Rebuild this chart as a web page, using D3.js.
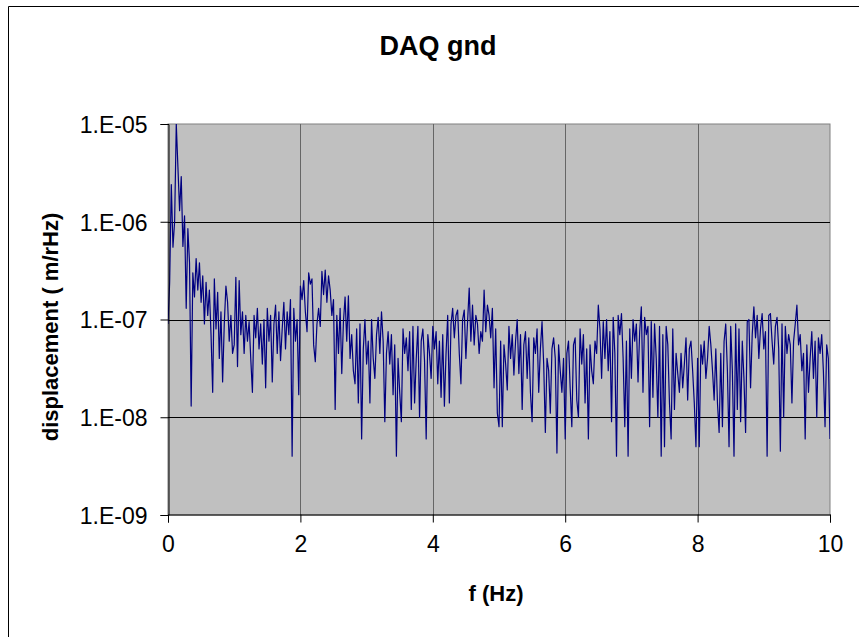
<!DOCTYPE html>
<html lang="en">
<head>
    <meta charset="utf-8">
    <title>DAQ gnd</title>
    <script src="https://d3js.org/d3.v7.min.js"></script>
    <style>
        body { margin: 0; background: #fff; }
        text { font-family: Arial, "Liberation Sans", sans-serif; fill: #000; }
        .tick-label { font-size: 23px; }
        .axis-title { font-size: 22px; font-weight: bold; }
        .chart-title { font-size: 27px; font-weight: bold; }
    </style>
</head>
<body>
    <svg id="chart" width="859" height="637"></svg>
    <script>
        // Spectrum, in nm/rHz (1e-9 m/rHz), one value per 0.025 Hz bin
        const binWidth = 0.025;
        const dispNm = [
            90, 240, 2400, 550, 1000, 10000, 3600, 1300, 2900, 560,
            1150, 130, 850, 380, 13, 300, 170, 420, 200, 380,
            150, 280, 90, 240, 110, 200, 70, 18, 260, 80,
            190, 40, 120, 23, 90, 220, 150, 60, 110, 45,
            55, 270, 33, 250, 70, 120, 45, 110, 60, 95,
            40, 18, 110, 65, 130, 50, 90, 35, 100, 20,
            130, 60, 110, 23, 90, 140, 45, 120, 38, 80,
            150, 50, 120, 70, 160, 4, 130, 60, 100, 17,
            220, 160, 250, 120, 75, 300, 230, 260, 55, 37,
            90, 130, 85, 310, 180, 320, 150, 280, 200, 110,
            160, 12, 110, 45, 130, 28, 95, 170, 60, 175,
            40, 70, 30, 22, 80, 14, 90, 6, 50, 100,
            35, 60, 14, 100, 40, 25, 70, 105, 45, 120,
            60, 9, 45, 75, 35, 70, 17, 55, 4, 40,
            18, 9, 80, 45, 65, 30, 75, 12, 85, 14,
            40, 85, 10, 60, 80, 38, 6, 70, 45, 25,
            85, 50, 75, 22, 60, 16, 70, 13, 45, 110,
            14, 90, 130, 65, 110, 125, 45, 22, 100, 125,
            40, 95, 210, 60, 140, 55, 110, 90, 45, 75,
            60, 200, 75, 140, 110, 65, 130, 20, 80, 11,
            8, 60, 8, 55, 35, 19, 85, 40, 70, 27,
            60, 100, 28, 70, 12, 55, 75, 25, 65, 18,
            9, 65, 45, 80, 18, 50, 95, 35, 7, 40,
            30, 11, 50, 65, 40, 4.3, 55, 30, 18, 40,
            6, 45, 60, 20, 8, 55, 65, 15, 10, 80,
            35, 70, 14, 50, 6, 55, 30, 22, 60, 45,
            140, 80, 25, 95, 40, 100, 30, 75, 9, 105,
            45, 4, 110, 70, 115, 40, 8, 60, 4, 80,
            25, 100, 60, 90, 23, 75, 135, 18, 105, 70,
            85, 8, 95, 16, 90, 40, 10, 85, 4, 70,
            5, 85, 55, 14, 6, 80, 12, 45, 28, 18,
            45, 20, 35, 65, 15, 50, 60, 30, 14, 5,
            40, 5, 55, 35, 60, 25, 40, 85, 55, 30,
            15, 50, 14, 7, 45, 8, 60, 90, 30, 5,
            85, 30, 4, 90, 12, 80, 9, 60, 25, 7,
            95, 100, 20, 70, 135, 65, 110, 40, 80, 115,
            50, 75, 4, 110, 115, 60, 35, 85, 105, 50,
            4.5, 90, 10, 85, 45, 70, 55, 14, 60, 90,
            140, 55, 70, 30, 45, 6, 55, 18, 40, 75,
            25, 60, 10, 65, 45, 70, 30, 8, 55, 40, 6
        ];

        const xTicks = [0, 2, 4, 6, 8, 10];
        const yTicks = [1e-9, 1e-8, 1e-7, 1e-6, 1e-5];
        const yTickLabels = ["1.E-09", "1.E-08", "1.E-07", "1.E-06", "1.E-05"];

        const data = dispNm.map((v, i) => ({ f: i * binWidth, d: v * 1e-9 }));

        // Plot area
        const plotLeft = 168, plotRight = 830, plotTop = 124, plotBottom = 515;

        const svg = d3.select("#chart");

        const x = d3.scaleLinear().domain([0, 10]).range([plotLeft, plotRight]);
        const y = d3.scaleLog().domain([1e-9, 1e-5]).range([plotBottom, plotTop]);

        // Outer chart frame (only top and left fall inside the window)
        svg.append("path")
            .attr("d", "M8.5,637V6.5H859")
            .attr("fill", "none")
            .attr("stroke", "#000")
            .attr("stroke-width", 1);

        // Gray plot area
        svg.append("rect")
            .attr("x", plotLeft).attr("y", plotTop)
            .attr("width", plotRight - plotLeft).attr("height", plotBottom - plotTop)
            .attr("fill", "#c0c0c0")
            .attr("stroke", "#808080")
            .attr("stroke-width", 1);

        // Vertical gridlines
        svg.append("g")
            .selectAll("line")
            .data(xTicks.slice(1, -1))
            .join("line")
            .attr("x1", d => Math.round(x(d)) + 0.5).attr("x2", d => Math.round(x(d)) + 0.5)
            .attr("y1", plotTop).attr("y2", plotBottom)
            .attr("stroke", "#666");

        // Horizontal gridlines
        svg.append("g")
            .selectAll("line")
            .data(yTicks.slice(1, -1))
            .join("line")
            .attr("x1", plotLeft).attr("x2", plotRight)
            .attr("y1", d => Math.round(y(d)) + 0.5).attr("y2", d => Math.round(y(d)) + 0.5)
            .attr("stroke", "#000");

        // Data line, clipped to the plot area
        svg.append("clipPath").attr("id", "plot-clip")
            .append("rect")
            .attr("x", plotLeft).attr("y", plotTop)
            .attr("width", plotRight - plotLeft).attr("height", plotBottom - plotTop);

        const line = d3.line()
            .x(d => x(d.f))
            .y(d => y(d.d));

        svg.append("path")
            .datum(data)
            .attr("clip-path", "url(#plot-clip)")
            .attr("d", line)
            .attr("fill", "none")
            .attr("stroke", "#000080")
            .attr("stroke-width", 1.2)
            .attr("stroke-linejoin", "round");

        // Y axis
        const yAxis = d3.axisLeft(y)
            .tickValues(yTicks)
            .tickFormat((d, i) => yTickLabels[i])
            .tickSize(8)
            .tickPadding(13);

        const gy = svg.append("g")
            .attr("transform", `translate(${plotLeft + 0.5},0)`)
            .call(yAxis);
        gy.select(".domain").attr("stroke", "#000");
        gy.selectAll(".tick line").attr("stroke", "#000");
        gy.selectAll(".tick text")
            .attr("class", "tick-label")
            .attr("dy", "0.36em");
        gy.attr("font-family", null).attr("font-size", null);

        // X axis
        const xAxis = d3.axisBottom(x)
            .tickValues(xTicks)
            .tickFormat(d3.format("d"))
            .tickSize(8)
            .tickPadding(13);

        const gx = svg.append("g")
            .attr("transform", `translate(0,${plotBottom - 0.5})`)
            .call(xAxis);
        gx.select(".domain").attr("stroke", "#000");
        gx.selectAll(".tick line").attr("stroke", "#000");
        gx.selectAll(".tick text")
            .attr("class", "tick-label");
        gx.attr("font-family", null).attr("font-size", null);

        // Titles
        svg.append("text")
            .attr("class", "chart-title")
            .attr("x", 438).attr("y", 55)
            .attr("text-anchor", "middle")
            .text("DAQ gnd");

        svg.append("text")
            .attr("class", "axis-title")
            .attr("x", 496).attr("y", 601)
            .attr("text-anchor", "middle")
            .text("f (Hz)");

        svg.append("text")
            .attr("class", "axis-title")
            .attr("transform", "translate(58,327) rotate(-90)")
            .attr("text-anchor", "middle")
            .text("displacement ( m/rHz)");
    </script>
</body>
</html>
